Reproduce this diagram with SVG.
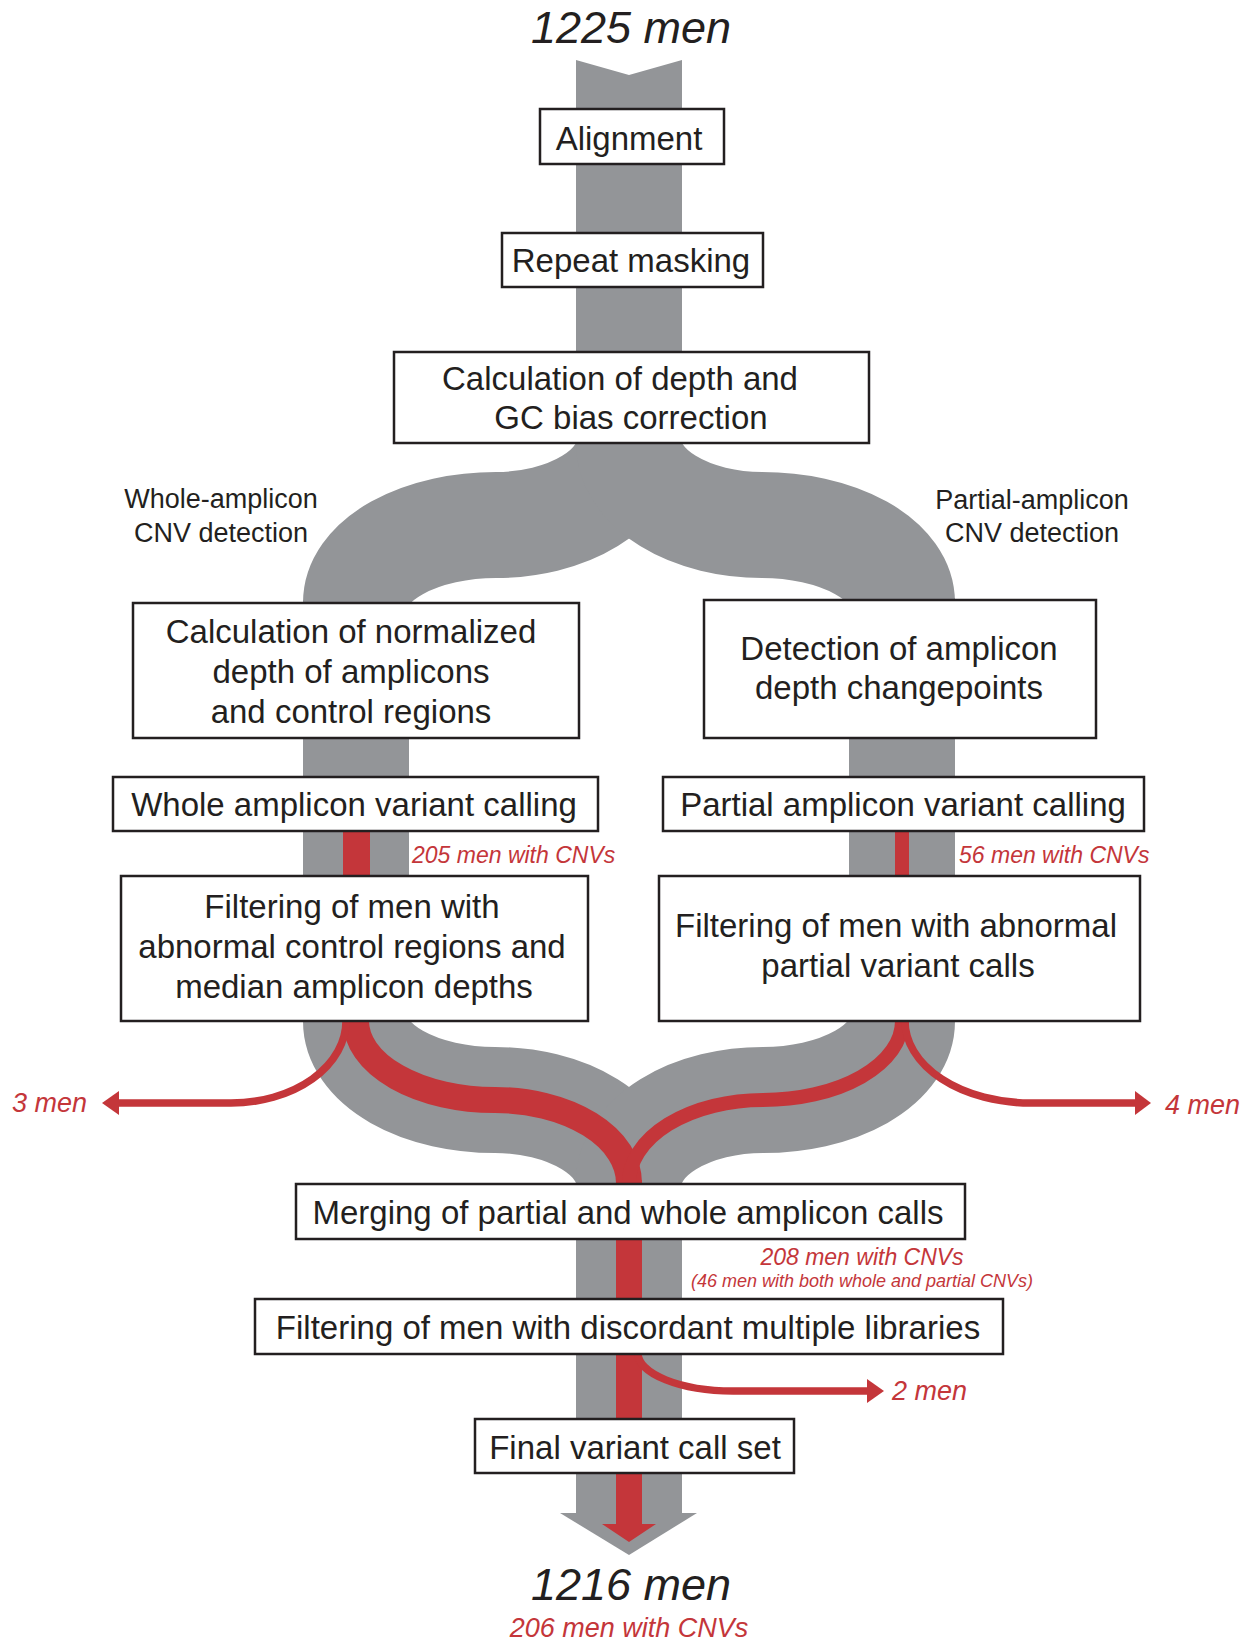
<svg xmlns="http://www.w3.org/2000/svg" width="1249" height="1644" viewBox="0 0 1249 1644">
<style>
.box{fill:#fff;stroke:#231f20;stroke-width:2.5}
.t{font-family:"Liberation Sans",Arial,Helvetica,sans-serif;font-size:33px;fill:#231f20;text-anchor:middle}
.side{font-family:"Liberation Sans",Arial,Helvetica,sans-serif;font-size:27px;fill:#231f20;text-anchor:middle}
.big{font-family:"Liberation Sans",Arial,Helvetica,sans-serif;font-size:45px;font-style:italic;fill:#231f20;text-anchor:middle}
.rl{font-family:"Liberation Sans",Arial,Helvetica,sans-serif;font-style:italic;fill:#c4363a}
.g{fill:none;stroke:#939598;stroke-width:106}
.gf{fill:#939598}
.rf{fill:#c4363a}
.thin{fill:none;stroke:#c4363a;stroke-width:7.5}
</style>
<g id="connectors">
  <!-- gray flow -->
  <polygon class="gf" points="576,60 629,75 682,60 682,446 576,446"/>
  <path class="g" d="M629,443 A133,82 0 0 1 496,525 A140,78 0 0 0 356,603"/>
  <path class="g" d="M629,443 A133,82 0 0 0 762,525 A140,78 0 0 1 902,603"/>
  <rect class="gf" x="303" y="600" width="106" height="422"/>
  <rect class="gf" x="849" y="598" width="106" height="424"/>
  <path class="g" d="M356,1021 A139,79 0 0 0 495,1100 A134,83 0 0 1 629,1183"/>
  <path class="g" d="M902,1021 A139,79 0 0 1 763,1100 A134,83 0 0 0 629,1183"/>
  <rect class="gf" x="576" y="1180" width="106" height="334"/>
  <polygon class="gf" points="560,1513 697,1513 629,1555"/>
  <!-- red flow -->
  <rect class="rf" x="343" y="831" width="27" height="191"/>
  <rect class="rf" x="895" y="831" width="14" height="191"/>
  <path fill="none" stroke="#c4363a" stroke-width="26" d="M356,1021 A139,79 0 0 0 495,1100 A134,83 0 0 1 629,1183"/>
  <path fill="none" stroke="#c4363a" stroke-width="14" d="M902,1021 A139,79 0 0 1 763,1100 A134,83 0 0 0 629,1183"/>
  <rect class="rf" x="616" y="1180" width="26" height="345"/>
  <polygon class="rf" points="602,1524 656,1524 629,1542"/>
  <!-- drop-outs -->
  <path class="thin" d="M346,1021 A115,82 0 0 1 231,1103 H117"/>
  <polygon class="rf" points="102,1103 119,1091 119,1115"/>
  <path class="thin" d="M905,1021 A125,82 0 0 0 1030,1103 H1136"/>
  <polygon class="rf" points="1151,1103 1135,1091 1135,1115"/>
  <path class="thin" d="M638,1353 A95,38 0 0 0 733,1391 H869"/>
  <polygon class="rf" points="884,1391 867,1379 867,1403"/>
</g>
<g id="labels">
  <text class="big" x="631" y="43">1225 men</text>
  <text class="side" x="221" y="508">Whole-amplicon</text>
  <text class="side" x="221" y="542">CNV detection</text>
  <text class="side" x="1032" y="509">Partial-amplicon</text>
  <text class="side" x="1032" y="542">CNV detection</text>
  <text class="rl" x="412" y="863" font-size="23">205 men with CNVs</text>
  <text class="rl" x="959" y="863" font-size="23">56 men with CNVs</text>
  <text class="rl" x="12" y="1112" font-size="27">3 men</text>
  <text class="rl" x="1165" y="1114" font-size="27">4 men</text>
  <text class="rl" x="862" y="1265" font-size="23" text-anchor="middle">208 men with CNVs</text>
  <text class="rl" x="862" y="1287" font-size="18" text-anchor="middle">(46 men with both whole and partial CNVs)</text>
  <text class="rl" x="892" y="1400" font-size="27">2 men</text>
  <text class="big" x="631" y="1600">1216 men</text>
  <text class="rl" x="629" y="1637" font-size="27" text-anchor="middle">206 men with CNVs</text>
</g>
<g id="n-alignment"><rect class="box" x="540" y="109" width="184" height="55"/><text class="t" x="629" y="150">Alignment</text></g>
<g id="n-repeat"><rect class="box" x="502" y="233" width="261" height="54"/><text class="t" x="631" y="272">Repeat masking</text></g>
<g id="n-depth"><rect class="box" x="394" y="352" width="475" height="91"/><text class="t" x="620" y="390">Calculation of depth and</text><text class="t" x="631" y="429">GC bias correction</text></g>
<g id="n-normalized"><rect class="box" x="133" y="603" width="446" height="135"/><text class="t" x="351" y="643">Calculation of normalized</text><text class="t" x="351" y="683">depth of amplicons</text><text class="t" x="351" y="723">and control regions</text></g>
<g id="n-changepoints"><rect class="box" x="704" y="600" width="392" height="138"/><text class="t" x="899" y="660">Detection of amplicon</text><text class="t" x="899" y="699">depth changepoints</text></g>
<g id="n-whole-calling"><rect class="box" x="113" y="777" width="485" height="54"/><text class="t" x="354" y="816">Whole amplicon variant calling</text></g>
<g id="n-partial-calling"><rect class="box" x="663" y="777" width="481" height="54"/><text class="t" x="903" y="816">Partial amplicon variant calling</text></g>
<g id="n-filter-whole"><rect class="box" x="121" y="876" width="467" height="145"/><text class="t" x="352" y="918">Filtering of men with</text><text class="t" x="352" y="958">abnormal control regions and</text><text class="t" x="354" y="998">median amplicon depths</text></g>
<g id="n-filter-partial"><rect class="box" x="659" y="876" width="481" height="145"/><text class="t" x="896" y="937">Filtering of men with abnormal</text><text class="t" x="898" y="977">partial variant calls</text></g>
<g id="n-merging"><rect class="box" x="296" y="1184" width="669" height="55"/><text class="t" x="628" y="1224">Merging of partial and whole amplicon calls</text></g>
<g id="n-discordant"><rect class="box" x="255" y="1299" width="748" height="55"/><text class="t" x="628" y="1339">Filtering of men with discordant multiple libraries</text></g>
<g id="n-final"><rect class="box" x="475" y="1419" width="319" height="54"/><text class="t" x="635" y="1459">Final variant call set</text></g>
</svg>
